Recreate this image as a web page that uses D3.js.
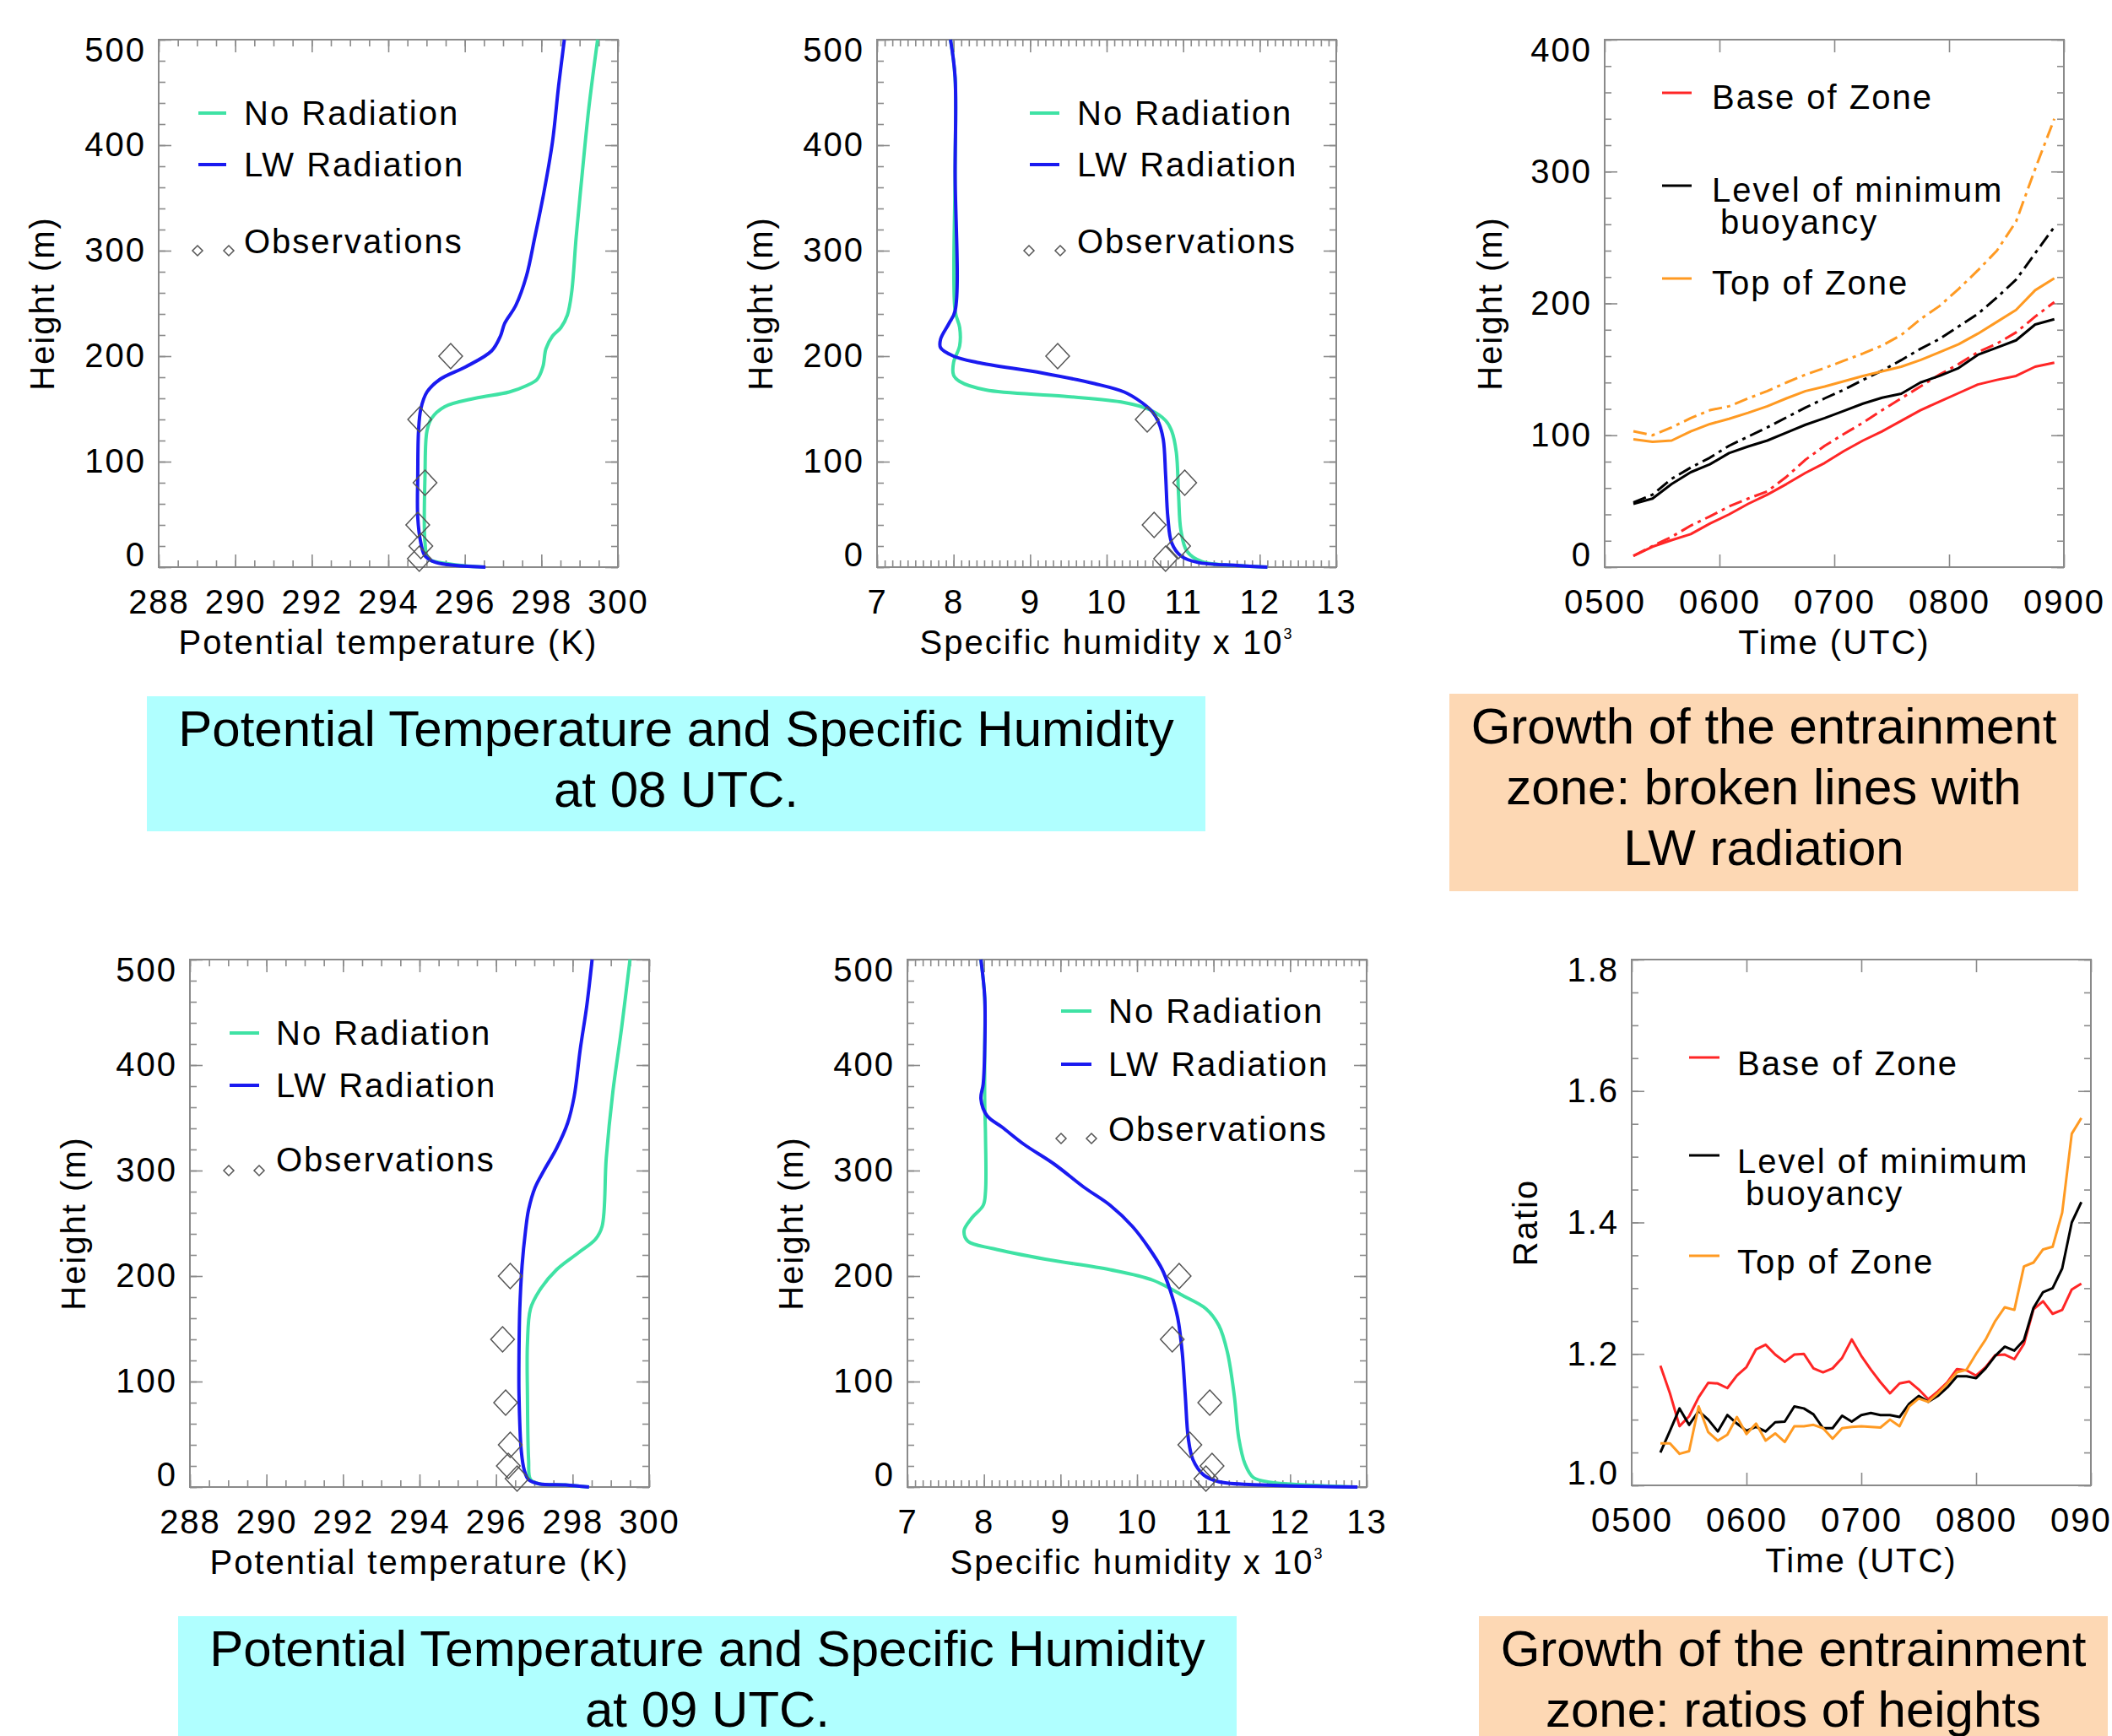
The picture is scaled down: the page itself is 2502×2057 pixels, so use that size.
<!DOCTYPE html>
<html>
<head>
<meta charset="utf-8">
<script src="https://cdn.jsdelivr.net/npm/d3@7"></script>
<style>body{margin:0;background:#fff}</style>
</head>
<body>
<div id="app"></div>
<script>
// observation heights (m), shared by all profile panels
const obsHeights = [200, 140, 80, 40, 20, 8];

// 08 UTC potential temperature (K)
const th08NoRadH = [500,435,374,313,260,239,227,219,207,190,178,172,166,160,152,141,129,88,23,8,3,0];
const th08NoRad  = [299.47,299.24,299.07,298.91,298.79,298.68,298.51,298.29,298.12,298.04,297.89,297.61,297.16,296.26,295.47,295.13,295.01,294.96,294.96,295.05,295.6,296.5];
const th08LwH    = [500,456,403,354,313,276,248,231,219,205,190,178,166,150,129,88,47,23,10.6,4.5,0];
const th08Lw     = [298.6,298.45,298.29,298.06,297.83,297.61,297.33,297.04,296.93,296.7,296.03,295.35,295.01,294.85,294.79,294.77,294.77,294.85,294.96,295.24,296.54];
const th08Obs    = [295.63,294.82,294.96,294.77,294.85,294.81];

// 08 UTC specific humidity x 10^3
const q08NoRadH = [500,464,374,243,227,210,194,182,176,168,162,156,149,139,129,109,68,35,15,5,1.6,0];
const q08NoRad  = [7.96,8.02,8.02,8.02,8.08,8.08,8.0,8.0,8.08,8.42,9.44,10.23,10.57,10.77,10.85,10.91,10.94,10.97,11.05,11.25,11.7,12.1];
const q08LwH    = [500,464,374,243,231,216,208,200,194,184,174,166,156,147,137,121,88,47,23,10.6,4.5,1.6,0];
const q08Lw     = [7.96,8.02,8.02,8.02,7.94,7.83,7.83,8.0,8.31,9.16,9.84,10.23,10.46,10.6,10.68,10.74,10.77,10.8,10.85,10.97,11.19,11.7,12.1];
const q08Obs    = [9.36,10.53,11.02,10.62,10.94,10.77];

// 09 UTC potential temperature (K)
const th09NoRadH = [500,435,374,312,247,235,222,206,186,169,136,87,26,7,3,2,0];
const th09NoRad  = [299.5,299.28,299.05,298.88,298.77,298.6,298.15,297.58,297.13,296.9,296.82,296.82,296.85,296.9,297.13,297.81,298.43];
const th09LwH    = [500,456,415,370,345,321,300,284,263,243,210,169,128,87,34,15.6,7,3,2,0];
const th09Lw     = [298.51,298.37,298.2,298.04,297.87,297.58,297.25,297.02,296.85,296.77,296.68,296.62,296.6,296.6,296.66,296.74,296.85,297.13,297.81,298.43];
const th09Obs    = [296.37,296.17,296.25,296.37,296.32,296.55];

// 09 UTC specific humidity x 10^3
const q09NoRadH = [500,464,415,366,333,280,267,255,243,233,226,216,206,196,181,169,153,128,87,46,22,9,4.5,2,0];
const q09NoRad  = [7.96,8.01,8.01,8.01,8.02,8.02,7.99,7.84,7.74,7.79,8.12,8.8,9.65,10.21,10.61,10.9,11.07,11.18,11.27,11.33,11.41,11.52,11.75,12.2,12.88];
const q09LwH    = [500,464,415,382,368,352,341,325,306,284,267,247,226,206,185,161,128,87,46,26,11.5,5,2,0];
const q09Lw     = [7.96,8.01,8.01,7.99,7.96,8.04,8.24,8.52,8.92,9.31,9.65,9.94,10.16,10.33,10.44,10.53,10.59,10.63,10.67,10.73,10.87,11.07,11.63,12.88];
const q09Obs    = [10.55,10.46,10.95,10.69,10.98,10.9];

// entrainment zone heights (m), solid = no radiation, dash-dot = LW radiation
const zoneTimes  = ["0515","0525","0535","0545","0555","0605","0615","0625","0635","0645","0655","0705","0715","0725","0735","0745","0755","0805","0815","0825","0835","0845","0855"];
const baseNoRad  = [8.5,15.5,20.5,25,33,40,48,55,63,71.5,79,88,96,103,111,119,125.5,132,138.5,142,145,152,155];
const baseLw     = [8.5,16,23,31.5,38.5,46,52,57.5,68.5,81.5,92,101,109.5,119,128,137,146,154,163,169.5,178,190,201];
const minbNoRad  = [48,52,63,72,78,86.5,91.5,96,102,108,113,118.5,124,128.5,131.5,140,145,151,161,166.5,172,184,188];
const minbLw     = [49,55,67,75.5,83,92,99,106,113.5,121,128,134.5,142,149,157,165.5,173,182.5,192,204.5,218,238,258];
const topNoRad   = [97,95,96,103,108.5,112.5,117,122,128,133.5,137,141,145,148.5,152,157,163,169,177,186,195,210,219];
const topLw      = [103,100,106,113,119,122,128,133.5,140,146,151,156.5,162,168,176,188,198,211,225,240,262,302,340];

// ratios of heights (LW / no radiation)
const ratioTimes = ["0515","0520","0525","0530","0535","0540","0545","0550","0555","0600","0605","0610","0615","0620","0625",
                    "0630","0635","0640","0645","0650","0655","0700","0705","0710","0715","0720","0725","0730","0735","0740",
                    "0745","0750","0755","0800","0805","0810","0815","0820","0825","0830","0835","0840","0845","0850","0855"];
const ratioBase = [1.182,1.140,1.090,1.105,1.134,1.156,1.155,1.148,1.167,1.180,1.207,1.214,1.199,1.188,1.199,
                   1.200,1.178,1.172,1.178,1.194,1.222,1.197,1.176,1.157,1.140,1.155,1.158,1.146,1.131,1.143,
                   1.157,1.177,1.175,1.167,1.180,1.198,1.199,1.192,1.215,1.268,1.280,1.261,1.267,1.298,1.307];
const ratioMinb = [1.050,1.083,1.117,1.092,1.113,1.100,1.082,1.107,1.094,1.083,1.089,1.082,1.096,1.097,1.120,
                   1.117,1.108,1.087,1.087,1.106,1.097,1.107,1.110,1.107,1.107,1.104,1.124,1.136,1.127,1.136,
                   1.149,1.166,1.166,1.163,1.178,1.197,1.211,1.205,1.221,1.270,1.294,1.300,1.330,1.400,1.431];
const ratioTop  = [1.064,1.064,1.048,1.052,1.120,1.081,1.068,1.077,1.104,1.078,1.094,1.068,1.079,1.066,1.090,
                   1.090,1.092,1.087,1.071,1.087,1.089,1.090,1.089,1.088,1.100,1.090,1.120,1.132,1.127,1.140,
                   1.155,1.172,1.176,1.200,1.222,1.250,1.271,1.267,1.333,1.339,1.359,1.363,1.415,1.535,1.559];

// tick labels
const thTicks    = [288,290,292,294,296,298,300];
const qTicks     = [7,8,9,10,11,12,13];
const profHTicks = [0,100,200,300,400,500];
const zoneHTicks = [0,100,200,300,400];
const ratioTicks = [1.0,1.2,1.4,1.6,1.8];
const timeTicks  = [5,6,7,8,9];
const timeLabels = ["0500","0600","0700","0800","0900"];

// text boxes
const box08Lines   = ["Potential Temperature and Specific Humidity","at 08 UTC."];
const box09Lines   = ["Potential Temperature and Specific Humidity","at 09 UTC."];
const growthLines  = ["Growth of the entrainment","zone: broken lines with","LW radiation"];
const ratioLines   = ["Growth of the entrainment","zone: ratios of heights"];

const W = 2502, H = 2057;
const FONT = "'Liberation Sans', Arial, Helvetica, sans-serif";
const GREEN = "#3fe2a4", BLUE = "#1a1af0", RED = "#ff2626", ORANGE = "#ff9a22", BLACK = "#000";
const AXC = "#8a8a8a";
const LS = 2;

const svg = d3.select("#app").append("svg")
  .attr("width", W).attr("height", H)
  .style("display", "block")
  .attr("font-family", FONT);
svg.append("rect").attr("width", W).attr("height", H).attr("fill", "#fff");

const hrs = s => +s.slice(0, 2) + (+s.slice(2)) / 60;

function diamondPath(cx, cy, rx, ry) {
  return `M${cx},${cy - ry}L${cx + rx},${cy}L${cx},${cy + ry}L${cx - rx},${cy}Z`;
}

function panel(o) {
  const g = svg.append("g").attr("transform", `translate(${o.left},${o.top})`);
  const x = d3.scaleLinear().domain(o.xDomain).range([0, o.w]);
  const y = d3.scaleLinear().domain(o.yDomain).range([o.h, 0]);

  // inward ticks on all four sides
  const sides = [
    [() => d3.axisBottom(x), `translate(0,${o.h})`, o.xMinor, o.xTicks],
    [() => d3.axisTop(x), "translate(0,0)", o.xMinor, o.xTicks],
    [() => d3.axisLeft(y), "translate(0,0)", o.yMinor, o.yTicks],
    [() => d3.axisRight(y), `translate(${o.w},0)`, o.yMinor, o.yTicks]
  ];
  sides.forEach(([mk, tr, minor, major]) => {
    [[minor, 8], [major, 15]].forEach(([vals, len]) => {
      if (!vals) return;
      const a = g.append("g").attr("transform", tr)
        .call(mk().tickValues(vals).tickSize(-len).tickFormat(""));
      a.select(".domain").remove();
      a.selectAll("line").attr("stroke", AXC).attr("stroke-width", 1.6);
    });
  });
  g.append("rect").attr("width", o.w).attr("height", o.h)
    .attr("fill", "none").attr("stroke", AXC).attr("stroke-width", 2);

  // tick labels
  const xl = g.append("g").attr("transform", `translate(0,${o.h})`)
    .call(d3.axisBottom(x).tickValues(o.xTicks).tickSize(0).tickPadding(27).tickFormat(o.xFmt));
  const yl = g.append("g")
    .call(d3.axisLeft(y).tickValues(o.yTicks).tickSize(0).tickPadding(15).tickFormat(o.yFmt));
  [xl, yl].forEach(a => {
    a.select(".domain").remove();
    a.attr("font-size", 40).attr("font-family", FONT).attr("letter-spacing", LS);
    a.selectAll("text").attr("fill", "#000");
  });
  yl.selectAll(".tick").filter(d => d === o.yDomain[1]).select("text").attr("transform", "translate(0,13)");
  yl.selectAll(".tick").filter(d => d === o.yDomain[0]).select("text").attr("transform", "translate(0,-14)");

  // axis titles
  const xt = g.append("text").attr("x", o.w / 2).attr("y", o.h + 103)
    .attr("text-anchor", "middle").attr("font-size", 40).attr("letter-spacing", LS).text(o.xTitle);
  if (o.xSup) xt.append("tspan").attr("font-size", 18).attr("dy", -18).text(o.xSup);
  g.append("text").attr("transform", `translate(${o.yTitleX},${o.h / 2}) rotate(-90)`)
    .attr("text-anchor", "middle").attr("font-size", 40).attr("letter-spacing", LS).text(o.yTitle);

  // series
  o.series.forEach(s => {
    const line = d3.line().x(d => x(d[0])).y(d => y(d[1]))
      .curve(s.smooth ? d3.curveCatmullRom.alpha(0.5) : d3.curveLinear);
    g.append("path").datum(d3.zip(s.xs, s.ys))
      .attr("fill", "none").attr("stroke", s.color).attr("stroke-width", s.width)
      .attr("stroke-dasharray", s.dash || null)
      .attr("stroke-linejoin", "round")
      .attr("d", line);
  });

  // observations
  if (o.obs) {
    g.append("g").selectAll("path").data(d3.zip(o.obs, obsHeights)).join("path")
      .attr("d", d => diamondPath(x(d[0]), y(d[1]), 14, 15))
      .attr("fill", "none").attr("stroke", "#555").attr("stroke-width", 1.5);
  }

  // legend
  const lg = g.append("g").attr("font-size", 40).attr("letter-spacing", LS);
  (o.legend || []).forEach(it => {
    if (it.color) {
      lg.append("line").attr("x1", it.x1).attr("x2", it.x2).attr("y1", it.ly).attr("y2", it.ly)
        .attr("stroke", it.color).attr("stroke-width", it.width);
    }
    if (it.diamonds) {
      it.diamonds.forEach(dx => lg.append("path").attr("d", diamondPath(dx, it.ly, 6, 6))
        .attr("fill", "none").attr("stroke", "#555").attr("stroke-width", 1.5));
    }
    it.lines.forEach((t, i) => {
      lg.append("text").attr("x", it.tx + (i ? 10 : 0)).attr("y", it.ty + i * 38)
        .attr("dy", "0.35em").text(t);
    });
  });
}

const profLegend = (lx1, lx2, tx, yG, yB, yOt, yOd, dx) => [
  {color: GREEN, width: 4, x1: lx1, x2: lx2, ly: yG, tx, ty: yG, lines: ["No Radiation"]},
  {color: BLUE, width: 4, x1: lx1, x2: lx2, ly: yB, tx, ty: yB, lines: ["LW Radiation"]},
  {diamonds: dx, ly: yOd, tx, ty: yOt, lines: ["Observations"]}
];
const zoneLegend = (lx1, lx2, tx, yR, yK, yO, off) => [
  {color: RED, width: 3, x1: lx1, x2: lx2, ly: yR, tx, ty: yR + off, lines: ["Base of Zone"]},
  {color: BLACK, width: 3, x1: lx1, x2: lx2, ly: yK, tx, ty: yK + off, lines: ["Level of minimum", "buoyancy"]},
  {color: ORANGE, width: 3, x1: lx1, x2: lx2, ly: yO, tx, ty: yO + off, lines: ["Top of Zone"]}
];

// text boxes
function textBox(x0, y0, w, h, fill, lines) {
  svg.append("rect").attr("x", x0).attr("y", y0).attr("width", w).attr("height", h).attr("fill", fill);
  lines.forEach((t, i) => svg.append("text").attr("x", x0 + w / 2).attr("y", y0 + 59 + i * 72)
    .attr("text-anchor", "middle").attr("font-size", 60).attr("fill", "#000").text(t));
}
textBox(174, 825, 1254, 160, "#b0ffff", box08Lines);
textBox(1717, 822, 745, 234, "#fdd8b4", growthLines);
textBox(211, 1915, 1254, 150, "#b0ffff", box09Lines);
textBox(1752, 1915, 745, 150, "#fdd8b4", ratioLines);

const PW = 544, PH = 625;
const profCommon = {w: PW, h: PH, yDomain: [0, 500], yTicks: profHTicks, yFmt: d3.format("d"),
  yTitle: "Height (m)", yTitleX: -124};
const yMinorProf = d3.scaleLinear().domain([0, 500]).ticks(25);

function profPanel(left, top, isTheta, noRadX, noRadH, lwX, lwH, obs, legend) {
  const xd = isTheta ? [288, 300] : [7, 13];
  panel(Object.assign({}, profCommon, {
    left, top, xDomain: xd,
    xTicks: isTheta ? thTicks : qTicks,
    xMinor: d3.scaleLinear().domain(xd).ticks(isTheta ? 24 : 60),
    yMinor: yMinorProf,
    xFmt: d3.format("d"),
    xTitle: isTheta ? "Potential temperature (K)" : "Specific humidity x 10",
    xSup: isTheta ? null : "3",
    series: [
      {xs: noRadX, ys: noRadH, color: GREEN, width: 4, smooth: true},
      {xs: lwX, ys: lwH, color: BLUE, width: 4, smooth: true}
    ],
    obs, legend
  }));
}

profPanel(188, 47, true, th08NoRad, th08NoRadH, th08Lw, th08LwH, th08Obs,
  profLegend(47, 80, 101, 87, 148, 239, 250, [46, 83]));
profPanel(1039, 47, false, q08NoRad, q08NoRadH, q08Lw, q08LwH, q08Obs,
  profLegend(181, 216, 237, 87, 148, 239, 250, [180, 217]));
profPanel(225, 1137, true, th09NoRad, th09NoRadH, th09Lw, th09LwH, th09Obs,
  profLegend(47, 82, 102, 87, 149, 237, 250, [46, 82]));
profPanel(1075, 1137, false, q09NoRad, q09NoRadH, q09Lw, q09LwH, q09Obs,
  profLegend(182, 218, 238, 61, 124, 201, 212, [182, 218]));

const zt = zoneTimes.map(hrs);
const DASH = "16,6,4,6";
panel({
  left: 1901, top: 47, w: PW, h: PH,
  xDomain: [5, 9], yDomain: [0, 400],
  xTicks: timeTicks, yTicks: zoneHTicks,
  yMinor: d3.scaleLinear().domain([0, 400]).ticks(20),
  xFmt: (d, i) => timeLabels[i], yFmt: d3.format("d"),
  xTitle: "Time (UTC)", yTitle: "Height (m)", yTitleX: -122,
  series: [
    {xs: zt, ys: baseNoRad, color: RED, width: 3},
    {xs: zt, ys: baseLw, color: RED, width: 3, dash: DASH},
    {xs: zt, ys: minbNoRad, color: BLACK, width: 3},
    {xs: zt, ys: minbLw, color: BLACK, width: 3, dash: DASH},
    {xs: zt, ys: topNoRad, color: ORANGE, width: 3},
    {xs: zt, ys: topLw, color: ORANGE, width: 3, dash: DASH}
  ],
  legend: zoneLegend(68, 103, 127, 63, 173, 283, 5)
});

const rt = ratioTimes.map(hrs);
panel({
  left: 1933, top: 1137, w: PW, h: 623,
  xDomain: [5, 9], yDomain: [1.0, 1.8],
  xTicks: timeTicks, yTicks: ratioTicks,
  yMinor: d3.scaleLinear().domain([1.0, 1.8]).ticks(16),
  xFmt: (d, i) => timeLabels[i], yFmt: d3.format(".1f"),
  xTitle: "Time (UTC)", yTitle: "Ratio", yTitleX: -112,
  series: [
    {xs: rt, ys: ratioBase, color: RED, width: 3},
    {xs: rt, ys: ratioMinb, color: BLACK, width: 3},
    {xs: rt, ys: ratioTop, color: ORANGE, width: 3}
  ],
  legend: zoneLegend(68, 104, 125, 116, 232, 351, 7)
});
</script>
</body>
</html>
